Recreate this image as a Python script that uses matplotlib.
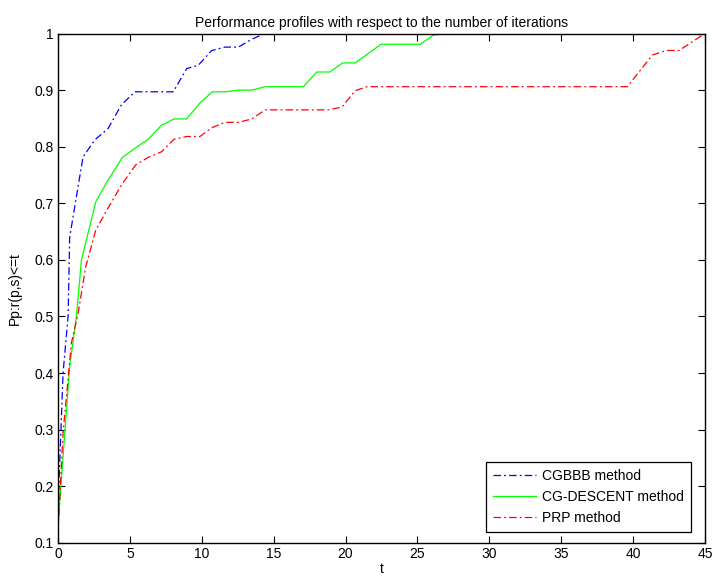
import matplotlib
matplotlib.use('Agg')
import matplotlib.pyplot as plt

plt.rcParams['font.family'] = ['Liberation Sans', 'DejaVu Sans']

# CGBBB method
cgbbb_t = [0, 0.35, 0.7, 0.81, 1.74, 2.56, 3.48, 4.41, 5.34, 8.02, 8.95, 9.76,
           10.69, 11.62, 12.55, 13.48, 14.4]
cgbbb_p = [0.16, 0.40, 0.50, 0.64, 0.782, 0.812, 0.832, 0.874, 0.897, 0.897,
           0.938, 0.944, 0.970, 0.976, 0.976, 0.990, 1.0]

# CG-DESCENT method
cgd_t = [0, 0.4, 0.81, 1.28, 1.63, 2.63, 3.48, 4.48, 5.34, 6.27, 7.2, 8.06, 8.95,
         9.87, 10.73, 11.62, 12.55, 13.48, 14.4, 17.07, 18.0, 18.9, 19.8, 20.67,
         22.47, 25.2, 26.1, 26.95]
cgd_p = [0.13, 0.27, 0.411, 0.50, 0.60, 0.703, 0.741, 0.781, 0.797, 0.813, 0.838,
         0.849, 0.849, 0.877, 0.897, 0.897, 0.90, 0.90, 0.906, 0.906, 0.932, 0.932,
         0.948, 0.948, 0.981, 0.981, 0.997, 1.0]

# PRP method
prp_t = [0, 0.35, 0.93, 1.4, 1.93, 2.63, 3.6, 4.48, 5.41, 6.27, 7.2, 8.06, 8.95,
         9.87, 10.73, 11.62, 12.55, 13.48, 14.4, 18.8, 19.75, 20.67, 21.5, 39.6,
         41.35, 42.3, 43.2, 45.0]
prp_p = [0.12, 0.294, 0.453, 0.506, 0.588, 0.653, 0.697, 0.735, 0.768, 0.781,
         0.791, 0.813, 0.818, 0.818, 0.834, 0.843, 0.843, 0.849, 0.865, 0.865,
         0.870, 0.899, 0.906, 0.906, 0.962, 0.970, 0.970, 1.0]

fig = plt.figure(figsize=(7.12, 5.78), dpi=100)
ax = fig.add_axes([0.0815, 0.061, 0.9085, 0.881])

ax.plot(cgbbb_t, cgbbb_p, color='#0000ff', linestyle='-.', linewidth=0.9,
        dashes=(6, 2.5, 1.5, 2.5), label='CGBBB method')
ax.plot(cgd_t, cgd_p, color='#00ff00', linestyle='-', linewidth=0.9,
        label='CG-DESCENT method')
ax.plot(prp_t, prp_p, color='#ff0000', linestyle='-.', linewidth=0.9,
        dashes=(6, 2.5, 1.5, 2.5), label='PRP method')

ax.set_xlim(0, 45)
ax.set_ylim(0.1, 1)
ax.set_xticks(range(0, 46, 5))
ax.set_yticks([0.1, 0.2, 0.3, 0.4, 0.5, 0.6, 0.7, 0.8, 0.9, 1.0])
ax.set_yticklabels(['0.1', '0.2', '0.3', '0.4', '0.5', '0.6', '0.7', '0.8', '0.9', '1'])
ax.tick_params(direction='in', top=True, right=True, labelsize=10, length=5,
               width=0.8, pad=3)
for s in ax.spines.values():
    s.set_linewidth(1.0)

ax.set_xlabel('t', fontsize=10, labelpad=1)
ax.set_ylabel('Pp:r(p,s)<=t', fontsize=10, labelpad=9)
ax.set_title('Performance profiles with respect to the number of iterations',
             fontsize=10, pad=5)

leg = ax.legend(loc='lower right', bbox_to_anchor=(0.978, 0.021), borderaxespad=0,
                fontsize=10, fancybox=False, framealpha=1, edgecolor='black',
                handlelength=3.1, handletextpad=0.4, labelspacing=0.5,
                borderpad=0.5)
leg.get_frame().set_linewidth(0.9)

fig.savefig('out.png', dpi=100, facecolor='white')
